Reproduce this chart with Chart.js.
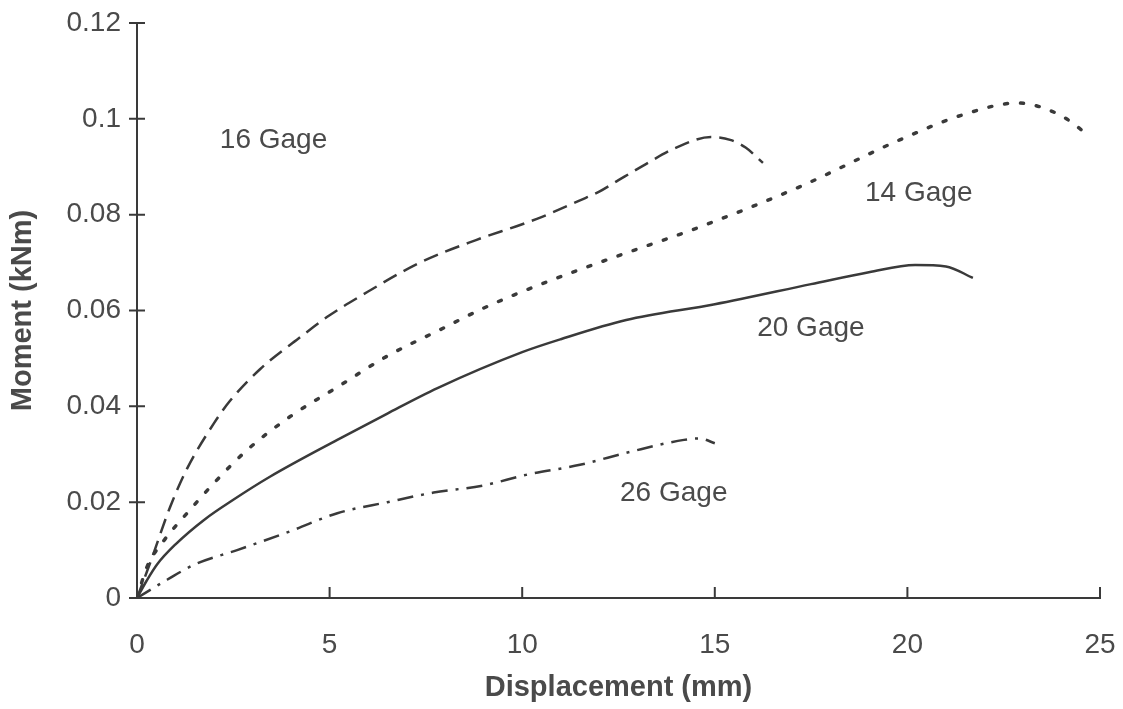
<!DOCTYPE html>
<html lang="en">
<head>
    <meta charset="UTF-8">
    <title>Moment vs Displacement</title>
    <script src="https://cdn.jsdelivr.net/npm/chart.js"></script>
    <style>
        body { margin: 0; background: #fff; }
        #wrap { width: 1123px; height: 709px; }
    </style>
</head>
<body>
    <div id="wrap"><canvas id="momentChart" width="1123" height="709"></canvas></div>

    <script>
        // values
        const g16x = [0, 0.34, 0.86, 1.3, 2.0, 2.4, 3.2, 4.2, 5.0, 5.8, 7.35, 8.8, 10.0, 10.5, 11.5, 12.0, 12.5, 13.2, 14.0, 14.9, 15.4, 15.8, 16.25];
        const g16y = [0, 0.0073, 0.019, 0.027, 0.0365, 0.041, 0.0478, 0.0542, 0.059, 0.063, 0.070, 0.0747, 0.078, 0.0795, 0.083, 0.0848, 0.0872, 0.0905, 0.094, 0.0962, 0.0956, 0.094, 0.0908];

        const g14x = [0, 0.26, 0.7, 1.3, 2.0, 2.86, 4.0, 5.2, 6.5, 7.87, 9.0, 10.3, 12.0, 12.7, 14.6, 17.2, 19.8, 21.5, 22.85, 23.96, 24.7];
        const g14y = [0, 0.0065, 0.012, 0.0177, 0.024, 0.0309, 0.038, 0.044, 0.0505, 0.056, 0.0605, 0.0649, 0.070, 0.072, 0.0774, 0.0858, 0.0956, 0.101, 0.1033, 0.1008, 0.0966];

        const g20x = [0, 0.25, 0.52, 1.0, 1.74, 2.5, 3.45, 5.2, 6.5, 7.8, 10.0, 11.0, 12.7, 15.0, 17.5, 19.0, 20.2, 21.0, 21.7];
        const g20y = [0, 0.0036, 0.0070, 0.0112, 0.0163, 0.0205, 0.0253, 0.033, 0.0385, 0.0438, 0.0513, 0.054, 0.058, 0.0613, 0.0655, 0.068, 0.0695, 0.0692, 0.0668];

        const g26x = [0, 0.78, 1.5, 2.6, 4.0, 5.2, 6.5, 7.7, 9.0, 10.1, 11.5, 12.8, 14.2, 14.6, 15.0];
        const g26y = [0, 0.0038, 0.007, 0.010, 0.014, 0.0177, 0.020, 0.022, 0.0235, 0.0257, 0.0278, 0.0305, 0.033, 0.0333, 0.0323];

        // curve labels: [text, x, y]
        const curveLabels = [
            ['16 Gage', 2.15, 0.0956],
            ['14 Gage', 18.9, 0.0845],
            ['20 Gage', 16.1, 0.0563],
            ['26 Gage', 12.54, 0.0219]
        ];

        const ink = '#3a3a3a';
        const textInk = '#4a4a4a';
        const face = '"Liberation Sans", Arial, sans-serif';

        function pts(xs, ys) {
            return xs.map((x, i) => ({ x: x, y: ys[i] }));
        }

        // ticks: y ticks cross the axis, x ticks point up into the plot
        const tickMarks = {
            id: 'tickMarks',
            afterDraw(chart) {
                const c = chart.ctx;
                const xs = chart.scales.x, ys = chart.scales.y;
                const left = chart.chartArea.left, bottom = chart.chartArea.bottom;
                c.save();
                c.strokeStyle = ink;
                c.lineWidth = 2;
                c.beginPath();
                ys.ticks.forEach(t => {
                    const py = ys.getPixelForValue(t.value);
                    c.moveTo(left - 8, py);
                    c.lineTo(left + 8, py);
                });
                xs.ticks.forEach(t => {
                    const px = xs.getPixelForValue(t.value);
                    c.moveTo(px, bottom);
                    c.lineTo(px, bottom - 11);
                });
                c.stroke();
                c.restore();
            }
        };

        const labelText = {
            id: 'labelText',
            afterDatasetsDraw(chart) {
                const c = chart.ctx;
                c.save();
                c.fillStyle = textInk;
                c.font = '28px ' + face;
                c.textAlign = 'left';
                c.textBaseline = 'middle';
                curveLabels.forEach(l => {
                    c.fillText(l[0], chart.scales.x.getPixelForValue(l[1]), chart.scales.y.getPixelForValue(l[2]));
                });
                c.restore();
            }
        };

        const common = {
            showLine: true,
            fill: false,
            pointRadius: 0,
            borderColor: ink,
            borderWidth: 2.5,
            cubicInterpolationMode: 'monotone'
        };

        const ctx = document.getElementById('momentChart').getContext('2d');
        const chart = new Chart(ctx, {
            type: 'scatter',
            data: {
                datasets: [
                    Object.assign({ label: '16 Gage', data: pts(g16x, g16y), borderDash: [15, 8] }, common),
                    Object.assign({ label: '14 Gage', data: pts(g14x, g14y), borderDash: [3, 13], borderCapStyle: 'round' }, common, { borderWidth: 3.5 }),
                    Object.assign({ label: '20 Gage', data: pts(g20x, g20y) }, common),
                    Object.assign({ label: '26 Gage', data: pts(g26x, g26y), borderDash: [16, 8, 3, 8] }, common)
                ]
            },
            options: {
                responsive: false,
                animation: false,
                layout: { padding: { left: 0, right: 23, top: 23, bottom: 0 } },
                plugins: {
                    legend: { display: false },
                    tooltip: { enabled: false }
                },
                scales: {
                    x: {
                        type: 'linear',
                        min: 0,
                        max: 25,
                        ticks: {
                            stepSize: 5,
                            padding: 30,
                            color: textInk,
                            font: { family: face, size: 28 }
                        },
                        grid: { display: false, drawTicks: false },
                        border: { display: true, color: ink, width: 2 },
                        title: {
                            display: true,
                            text: 'Displacement (mm)',
                            color: textInk,
                            padding: 4,
                            font: { family: face, size: 29, weight: 'bold' }
                        },
                        afterFit(scale) {
                            scale.height = 111;
                            scale.paddingLeft = 0;
                            scale.paddingRight = 0;
                        }
                    },
                    y: {
                        type: 'linear',
                        min: 0,
                        max: 0.12,
                        ticks: {
                            stepSize: 0.02,
                            padding: 16,
                            color: textInk,
                            font: { family: face, size: 28 },
                            callback: v => String(Math.round(v * 100) / 100)
                        },
                        grid: { display: false, drawTicks: false },
                        border: { display: true, color: ink, width: 2 },
                        title: {
                            display: true,
                            text: 'Moment (kNm)',
                            color: textInk,
                            padding: 6,
                            font: { family: face, size: 29, weight: 'bold' }
                        },
                        afterFit(scale) {
                            scale.width = 137;
                            scale.paddingTop = 0;
                            scale.paddingBottom = 0;
                        }
                    }
                }
            },
            plugins: [tickMarks, labelText]
        });
    </script>
</body>
</html>
